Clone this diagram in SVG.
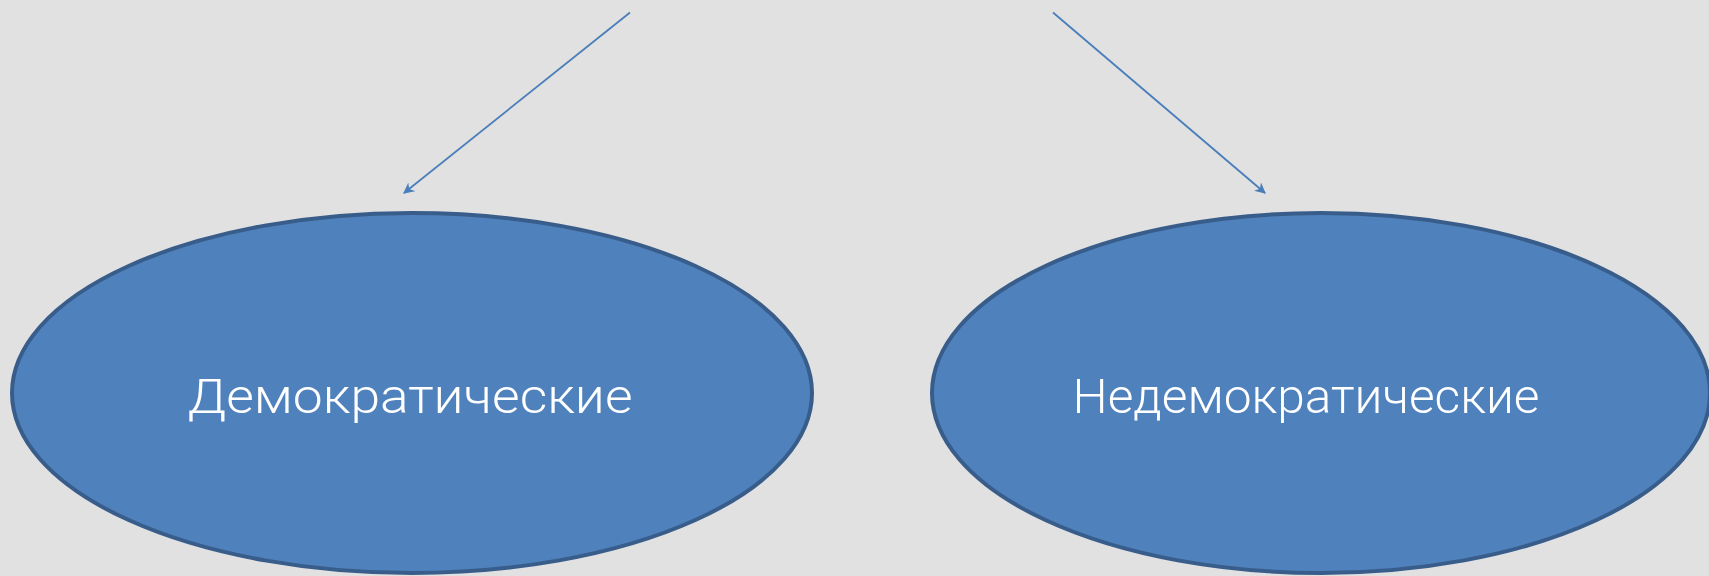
<svg xmlns="http://www.w3.org/2000/svg" width="1709" height="576" viewBox="0 0 1709 576">
<defs>
<style>
.node ellipse{fill:#4f81bd;stroke:#385d8a;stroke-width:4}
.node text{fill:#ffffff;font-family:"Roboto","Open Sans","Liberation Sans",sans-serif;font-weight:300;font-size:48px;text-anchor:middle}
.conn line{stroke:#4a7ebb;stroke-width:1.8;fill:none}
</style>
<marker id="arr" viewBox="0 0 10 10" refX="9" refY="5" markerWidth="11" markerHeight="11" orient="auto" markerUnits="userSpaceOnUse">
<path d="M0,0 L10,5 L0,10 L3,5 Z" fill="#4a7ebb"/>
</marker>
</defs>
<rect width="1709" height="576" fill="#e1e1e1"/>
<g class="conn" id="connectors">
<line x1="630" y1="12.5" x2="404" y2="193" marker-end="url(#arr)"/>
<line x1="1053" y1="12.5" x2="1265" y2="193" marker-end="url(#arr)"/>
</g>
<g class="node" id="node-democratic">
<ellipse cx="412" cy="393" rx="400" ry="180"/>
<text x="410" y="413" textLength="445" lengthAdjust="spacingAndGlyphs">Демократические</text>
</g>
<g class="node" id="node-nondemocratic">
<ellipse cx="1321" cy="393" rx="389" ry="180"/>
<text x="1306" y="413" textLength="467" lengthAdjust="spacingAndGlyphs">Недемократические</text>
</g>
</svg>
